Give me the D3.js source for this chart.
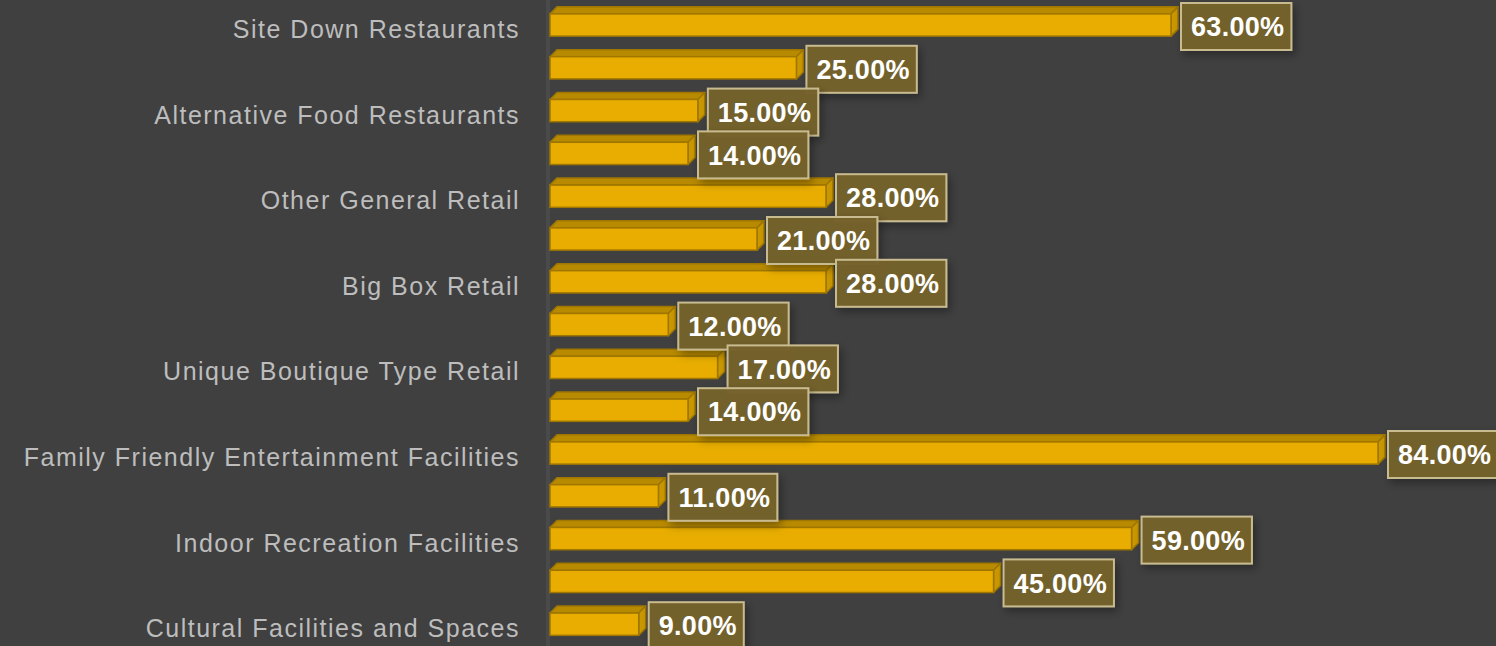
<!DOCTYPE html>
<html>
<head>
  <meta http-equiv="Content-Type" content="text/html;charset=utf-8" />
  <style type="text/css">
    body { margin: 0; background: #404040; }
    .cat text { fill: #bdbdbd; font-family: "Liberation Sans", Arial, sans-serif; font-size: 25px; letter-spacing: 1.5px; }
    .lbl text { fill: #ffffff; font-family: "Liberation Sans", Arial, sans-serif; font-size: 27px; font-weight: bold; letter-spacing: 0.3px; }
  </style>
</head>
<body>
  <div id="svgContainer"></div>
  <script src="https://d3js.org/d3.v7.min.js"></script>
  <script type="text/javascript">
    var w = 1496;
    var h = 646;

    // only every other category name is printed in the picture; unshown names are left blank
    var categories = [
      "Site Down Restaurants", "",
      "Alternative Food Restaurants", "",
      "Other General Retail", "",
      "Big Box Retail", "",
      "Unique Boutique Type Retail", "",
      "Family Friendly Entertainment Facilities", "",
      "Indoor Recreation Facilities", "",
      "Cultural Facilities and Spaces"
    ];
    var values = [63, 25, 15, 14, 28, 21, 28, 12, 17, 14, 84, 11, 59, 45, 9];

    var dx = 7, dy = -7; // 3d depth

    var svg = d3.select("#svgContainer")
      .append("svg")
      .attr("width", w)
      .attr("height", h);

    var defs = svg.append("defs");
    var f = defs.append("filter").attr("id", "shadow")
      .attr("x", "-20%").attr("y", "-20%").attr("width", "150%").attr("height", "160%");
    f.append("feDropShadow")
      .attr("dx", 3).attr("dy", 4).attr("stdDeviation", 4)
      .attr("flood-color", "#000").attr("flood-opacity", 0.35);

    svg.append("rect").attr("width", w).attr("height", h).attr("fill", "#404040");

    var x = d3.scaleLinear().domain([0, 84]).range([550, 1378]);
    var y = d3.scaleBand().domain(d3.range(values.length))
      .range([3.6, 645.6]).paddingInner(0.48).paddingOuter(0.24);

    // side wall of the 3d plot
    svg.append("rect")
      .attr("x", x(0) - 4).attr("y", 0)
      .attr("width", 4).attr("height", h)
      .attr("fill", "#4a4a4a");

    var axis = d3.axisLeft(y).tickSize(0).tickPadding(0)
      .tickFormat(function (i) { return categories[i]; });
    svg.append("g")
      .attr("class", "cat")
      .attr("transform", "translate(520,5)")
      .call(axis)
      .call(function (g) { g.select(".domain").remove(); });

    var bars = svg.append("g").selectAll("g")
      .data(values)
      .join("g");

    bars.each(function (d, i) {
      var g = d3.select(this);
      var x0 = x(0), x1 = x(d);
      var y0 = y(i), y1 = y(i) + y.bandwidth();
      var stroke = "#9e7600";
      g.append("path")
        .attr("d", "M" + x0 + "," + y0 + "L" + (x0 + dx) + "," + (y0 + dy) +
          "L" + (x1 + dx) + "," + (y0 + dy) + "L" + x1 + "," + y0 + "Z")
        .attr("fill", "#b88a00").attr("stroke", stroke).attr("stroke-width", 1.5)
        .attr("stroke-linejoin", "round");
      g.append("path")
        .attr("d", "M" + x1 + "," + y0 + "L" + (x1 + dx) + "," + (y0 + dy) +
          "L" + (x1 + dx) + "," + (y1 + dy) + "L" + x1 + "," + y1 + "Z")
        .attr("fill", "#c99700").attr("stroke", stroke).attr("stroke-width", 1.5)
        .attr("stroke-linejoin", "round");
      g.append("rect")
        .attr("x", x0).attr("y", y0)
        .attr("width", x1 - x0).attr("height", y1 - y0)
        .attr("fill", "#e8ad00").attr("stroke", stroke).attr("stroke-width", 1.5);
    });

    var fmt = d3.format(".2f");
    var lbl = svg.append("g").attr("class", "lbl").selectAll("g")
      .data(values)
      .join("g")
      .attr("transform", function (d, i) {
        return "translate(" + (x(d) + dx + 3) + "," + (y(i) + y.bandwidth() / 2 + 1.5) + ")";
      });

    lbl.each(function (d) {
      var g = d3.select(this);
      var r = g.append("rect")
        .attr("fill", "#76622c").attr("fill-opacity", 0.97)
        .attr("stroke", "#c8bb90").attr("stroke-width", 2)
        .attr("filter", "url(#shadow)");
      var t = g.append("text")
        .attr("x", 10).attr("dy", "0.36em")
        .text(fmt(d) + "%");
      var tw = t.node().getComputedTextLength();
      r.attr("x", 0).attr("y", -23.5).attr("width", tw + 17).attr("height", 47);
    });
  </script>
</body>
</html>
